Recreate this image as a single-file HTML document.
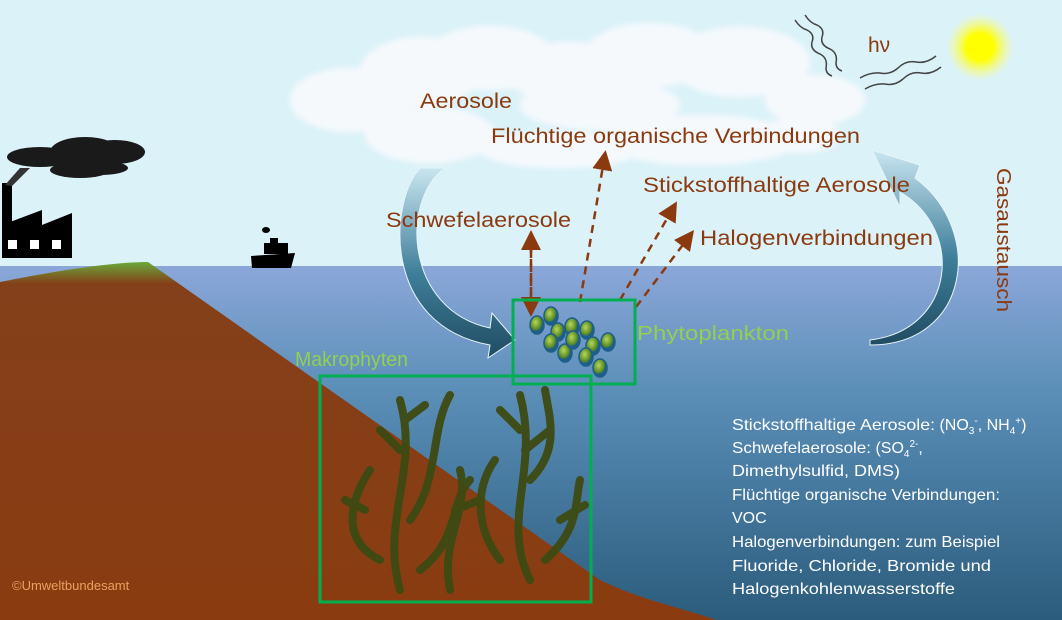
<!DOCTYPE html>
<html><head><meta charset="utf-8"><style>
html,body{margin:0;padding:0;width:1062px;height:620px;overflow:hidden;background:#dbf2f9}
svg{display:block}
text{font-family:"Liberation Sans","DejaVu Sans",sans-serif}
</style></head><body>
<svg width="1062" height="620" viewBox="0 0 1062 620" xmlns="http://www.w3.org/2000/svg">
<defs>
<linearGradient id="sea" x1="0" y1="0" x2="0" y2="1">
<stop offset="0" stop-color="#8ba7d9"/><stop offset="0.35" stop-color="#5b8fb8"/><stop offset="1" stop-color="#2b5c7d"/></linearGradient>
<linearGradient id="land" x1="0" y1="0" x2="0" y2="1">
<stop offset="0" stop-color="#6aaa3a"/><stop offset="0.06" stop-color="#84401a"/><stop offset="1" stop-color="#8a3c10"/></linearGradient>
<linearGradient id="arr" x1="0" y1="0" x2="0" y2="1">
<stop offset="0" stop-color="#c9e6f0"/><stop offset="0.55" stop-color="#3f7f9a"/><stop offset="1" stop-color="#1f4c62"/></linearGradient>
<radialGradient id="sun"><stop offset="0.4" stop-color="#ffff00"/><stop offset="1" stop-color="#ffff80" stop-opacity="0"/></radialGradient>
<radialGradient id="cell" cx="0.4" cy="0.35"><stop offset="0" stop-color="#b6d85a"/><stop offset="0.8" stop-color="#5a8a22"/><stop offset="1" stop-color="#1d5f8a"/></radialGradient>
<filter id="bl"><feGaussianBlur stdDeviation="3"/></filter>
<marker id="ah" markerWidth="8" markerHeight="8" refX="4" refY="4" orient="auto"><path d="M0,0 L8,4 L0,8 z" fill="#8b3a0f"/></marker>
</defs>
<rect width="1062" height="266" fill="#dbf2f9"/>
<rect y="266" width="1062" height="354" fill="url(#sea)"/>
<circle cx="980" cy="47" r="34" fill="url(#sun)"/>
<!-- clouds -->
<g fill="#f6f9fc" filter="url(#bl)">
<ellipse cx="350" cy="100" rx="60" ry="32"/><ellipse cx="420" cy="72" rx="60" ry="35"/><ellipse cx="490" cy="58" rx="65" ry="32"/>
<ellipse cx="570" cy="72" rx="65" ry="30"/><ellipse cx="650" cy="55" rx="65" ry="32"/><ellipse cx="740" cy="62" rx="70" ry="35"/>
<ellipse cx="815" cy="100" rx="50" ry="25"/><ellipse cx="600" cy="105" rx="80" ry="25"/><ellipse cx="430" cy="135" rx="65" ry="28"/>
<ellipse cx="700" cy="140" rx="100" ry="25"/><ellipse cx="560" cy="150" rx="80" ry="18"/><ellipse cx="800" cy="135" rx="40" ry="18"/>
</g>
<!-- wavy lines -->
<g fill="none" stroke="#444" stroke-width="1.5">
<path d="M795,20 q5,8 12,10 q8,4 5,12 q-2,8 8,12 q8,4 6,14 q0,6 6,8"/>
<path d="M805,15 q5,8 12,10 q8,4 5,12 q-2,8 8,12 q8,4 6,14 q0,6 6,8"/>
<path d="M860,78 q10,-6 20,-5 q10,2 18,-5 q8,-8 18,-6 q10,2 20,-6"/>
<path d="M865,89 q10,-6 20,-5 q10,2 18,-5 q8,-8 18,-6 q10,2 20,-6"/>
</g>
<text x="868" y="52" font-size="21" fill="#8b3a0f">hν</text>
<!-- land -->
<path d="M0,282 C50,272 110,262 148,262 L600,580 C640,600 690,610 716,620 L0,620 Z" fill="url(#land)"/>
<!-- factory -->
<g fill="#000">
<rect x="2" y="183" width="10" height="75"/>
<path d="M2,258 L2,225 L42,210 L42,225 L72,213 L72,258 Z"/>
</g>
<g fill="#fff"><rect x="8" y="240" width="9" height="9"/><rect x="30" y="240" width="9" height="9"/><rect x="52" y="240" width="9" height="9"/></g>
<g fill="#1a1a1a"><ellipse cx="40" cy="157" rx="33" ry="10"/><ellipse cx="85" cy="152" rx="35" ry="15"/><ellipse cx="115" cy="152" rx="30" ry="12"/><ellipse cx="80" cy="170" rx="30" ry="8"/><ellipse cx="100" cy="168" rx="28" ry="7"/></g>
<path d="M5,185 L20,168 L30,168 L12,186 Z" fill="#333"/>
<!-- ship -->
<path d="M251,256 L295,253 L291,268 L252,268 Z" fill="#000"/>
<rect x="264" y="243" width="24" height="11" fill="#000"/><rect x="270" y="238" width="8" height="6" fill="#000"/>
<ellipse cx="266" cy="230" rx="4" ry="3" fill="#000"/>
<!-- curved arrows -->
<path d="M445,168 C400,200 405,310 490,328 L492,313 L515,340 L488,358 L490,345 C380,325 390,200 420,168 Z" fill="url(#arr)" stroke="#e8f4f8" stroke-width="1"/>
<path d="M870,340 C955,330 965,230 900,192 L900,207 L872,150 L920,165 L915,178 C985,230 970,345 870,345 Z" fill="url(#arr)" stroke="#e8f4f8" stroke-width="1"/>
<text transform="translate(997,168) rotate(90)" font-size="20" fill="#8b3a0f" textLength="144" lengthAdjust="spacingAndGlyphs">Gasaustausch</text>
<!-- labels -->
<g font-size="21" fill="#8b3a0f">
<text x="420" y="108" textLength="92" lengthAdjust="spacingAndGlyphs">Aerosole</text>
<text x="491" y="143" textLength="369" lengthAdjust="spacingAndGlyphs">Flüchtige organische Verbindungen</text>
<text x="643" y="192" textLength="267" lengthAdjust="spacingAndGlyphs">Stickstoffhaltige Aerosole</text>
<text x="386" y="227" textLength="185" lengthAdjust="spacingAndGlyphs">Schwefelaerosole</text>
<text x="700" y="245" textLength="233" lengthAdjust="spacingAndGlyphs">Halogenverbindungen</text>
</g>
<!-- dashed arrows -->
<g stroke="#8b3a0f" stroke-width="2.5" stroke-dasharray="8,6" fill="none" marker-end="url(#ah)">
<line x1="531" y1="245" x2="531" y2="307"/>
<line x1="531" y1="300" x2="531" y2="240"/>
<line x1="580" y1="302" x2="604" y2="160"/>
<line x1="620" y1="300" x2="672" y2="210"/>
<line x1="636" y1="307" x2="688" y2="238"/>
</g>
<!-- macrophytes -->
<g stroke="#3e4a12" stroke-width="8" fill="none" stroke-linecap="round" opacity="0.95">
<path d="M400,590 C380,520 420,470 400,400"/><path d="M410,520 C440,480 430,430 450,395"/>
<path d="M380,560 C340,540 350,500 370,470"/><path d="M420,570 C460,540 450,500 470,480"/>
<path d="M530,580 C500,520 540,470 520,395"/><path d="M530,480 C560,450 550,420 545,390"/>
<path d="M500,560 C470,520 480,480 495,460"/><path d="M545,560 C580,530 575,500 580,480"/>
<path d="M450,590 C440,540 470,510 460,470"/>
<path d="M400,450 L380,430"/><path d="M405,420 L425,405"/><path d="M520,430 L500,410"/><path d="M525,450 L550,430"/>
<path d="M365,510 L345,500"/><path d="M560,520 L585,505"/><path d="M455,510 L480,500"/>
</g>
<text x="295" y="366" font-size="20" fill="#92d050" textLength="113" lengthAdjust="spacingAndGlyphs">Makrophyten</text>
<rect x="320" y="376" width="271" height="226" fill="none" stroke="#00b050" stroke-width="3"/>
<!-- phytoplankton -->
<g stroke="#1d5f8a" stroke-width="1.5" fill="url(#cell)">
<ellipse cx="537" cy="325" rx="7" ry="9"/><ellipse cx="551" cy="316" rx="7" ry="9"/><ellipse cx="558" cy="332" rx="7" ry="9"/>
<ellipse cx="572" cy="327" rx="7" ry="9"/><ellipse cx="587" cy="330" rx="7" ry="9"/><ellipse cx="551" cy="343" rx="7" ry="9"/>
<ellipse cx="565" cy="353" rx="7" ry="9"/><ellipse cx="573" cy="340" rx="7" ry="9"/><ellipse cx="593" cy="346" rx="7" ry="9"/>
<ellipse cx="608" cy="342" rx="7" ry="9"/><ellipse cx="586" cy="357" rx="7" ry="9"/><ellipse cx="600" cy="368" rx="7" ry="9"/>
</g>
<rect x="513" y="300" width="122" height="84" fill="none" stroke="#00b050" stroke-width="3"/>
<text x="637" y="340" font-size="20" fill="#92d050" textLength="152" lengthAdjust="spacingAndGlyphs">Phytoplankton</text>
<!-- info -->
<g font-size="16" fill="#fff">
<text x="732" y="430"><tspan textLength="203" lengthAdjust="spacingAndGlyphs">Stickstoffhaltige Aerosole:</tspan> (NO<tspan font-size="10" dy="4">3</tspan><tspan font-size="10" dy="-10">-</tspan><tspan dy="6">, NH</tspan><tspan font-size="10" dy="4">4</tspan><tspan font-size="10" dy="-10">+</tspan><tspan dy="6">)</tspan></text>
<text x="732" y="453"><tspan textLength="139" lengthAdjust="spacingAndGlyphs">Schwefelaerosole:</tspan> (SO<tspan font-size="10" dy="4">4</tspan><tspan font-size="10" dy="-10">2-</tspan><tspan dy="6">,</tspan></text>
<text x="732" y="476" textLength="168" lengthAdjust="spacingAndGlyphs">Dimethylsulfid, DMS)</text>
<text x="732" y="500" textLength="268" lengthAdjust="spacingAndGlyphs">Flüchtige organische Verbindungen:</text>
<text x="732" y="523">VOC</text>
<text x="732" y="547" textLength="268" lengthAdjust="spacingAndGlyphs">Halogenverbindungen: zum Beispiel</text>
<text x="732" y="571" textLength="259" lengthAdjust="spacingAndGlyphs">Fluoride, Chloride, Bromide und</text>
<text x="732" y="594" textLength="223" lengthAdjust="spacingAndGlyphs">Halogenkohlenwasserstoffe</text>
</g>
<text x="12" y="590" font-size="13" fill="#e8a060">©Umweltbundesamt</text>
</svg>
</body></html>
